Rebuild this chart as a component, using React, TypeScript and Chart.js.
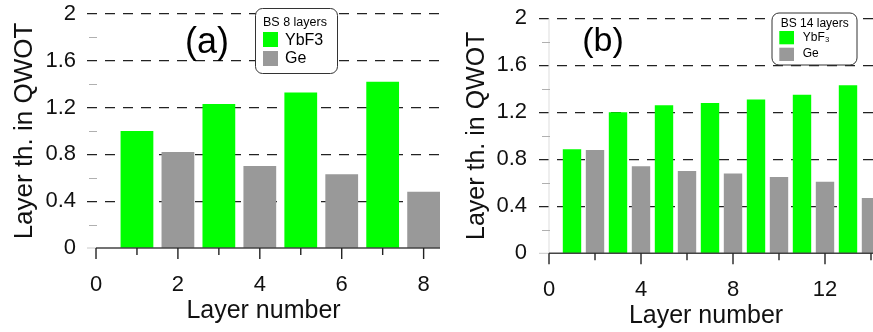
import React, { useEffect, useRef } from 'react';
import { Chart, registerables } from 'chart.js';
Chart.register(...registerables);

const FONT = "'Liberation Sans', Arial, Helvetica, sans-serif";

// ---------- data ----------
// Panel (a): BS 8 layers
const ybf3LayersA = [1, 3, 5, 7];
const ybf3ValuesA = [1.0, 1.23, 1.33, 1.42];
const geLayersA = [2, 4, 6, 8];
const geValuesA = [0.82, 0.7, 0.63, 0.48];

// Panel (b): BS 14 layers
const ybf3LayersB = [1, 3, 5, 7, 9, 11, 13];
const ybf3ValuesB = [0.885, 1.2, 1.26, 1.28, 1.31, 1.35, 1.43];
const geLayersB = [2, 4, 6, 8, 10, 12, 14];
const geValuesB = [0.88, 0.74, 0.7, 0.68, 0.65, 0.61, 0.47];

// ticks
const yTickValues = [0, 0.4, 0.8, 1.2, 1.6, 2];
const yTickLabels = ['0', '0.4', '0.8', '1.2', '1.6', '2'];
const yMinorValues = [0.2, 0.6, 1.0, 1.4, 1.8];
const xTickValuesA = [0, 2, 4, 6, 8];
const xTickLabelsA = ['0', '2', '4', '6', '8'];
const xTickValuesB = [0, 4, 8, 12];
const xTickLabelsB = ['0', '4', '8', '12'];

const GREEN = '#00ff00';
const GRAY = '#999999';

const findLabel = (vals: number[], labels: string[], v: number) => {
  const i = vals.findIndex((t) => Math.abs(t - v) < 1e-6);
  return i >= 0 ? labels[i] : '';
};

const decorPlugin = {
  id: 'decor',
  afterDatasetsDraw(chart: any, _args: any, o: any) {
    const ctx: CanvasRenderingContext2D = chart.ctx;
    const xs = chart.scales.x;
    const ys = chart.scales.y;
    const area = chart.chartArea;
    const y0 = ys.getPixelForValue(0);
    const x0 = xs.getPixelForValue(0);
    const line = (a: number, b: number, c: number, d: number) => {
      ctx.beginPath();
      ctx.moveTo(a, b);
      ctx.lineTo(c, d);
      ctx.stroke();
    };
    ctx.save();
    // zero baseline left of the axis
    ctx.strokeStyle = '#c8c8c8';
    ctx.lineWidth = 1;
    line(area.left, y0, x0, y0);
    if (o.yAxisLine) {
      ctx.strokeStyle = '#dddddd';
      line(x0, area.top, x0, y0);
    }
    // minor y ticks
    ctx.strokeStyle = '#b0b0b0';
    ctx.lineWidth = 1;
    for (const v of yMinorValues) {
      const py = Math.round(ys.getPixelForValue(v)) + 0.5;
      line(x0 - 7, py, x0 + 1, py);
    }
    // x axis line
    ctx.strokeStyle = '#444';
    ctx.lineWidth = 1.6;
    line(x0, y0, area.right, y0);
    // x ticks
    ctx.strokeStyle = '#222';
    ctx.lineWidth = 1.4;
    for (let v = 0; v <= xs.max + 1e-9; v += o.xMinorStep) {
      const px = xs.getPixelForValue(v);
      const major = Math.abs(v / o.xMajorStep - Math.round(v / o.xMajorStep)) < 1e-6;
      line(px, y0, px, y0 + (major ? 11 : 7));
    }
    // panel label
    ctx.fillStyle = '#000';
    ctx.font = `${o.label.size}px ${FONT}`;
    ctx.textAlign = 'center';
    ctx.textBaseline = 'middle';
    ctx.fillText(o.label.text, o.label.x, o.label.y);
    // legend box
    const L = o.legend;
    ctx.fillStyle = '#fff';
    ctx.strokeStyle = '#333';
    ctx.lineWidth = 1;
    ctx.beginPath();
    (ctx as any).roundRect(L.x + 0.5, L.y + 0.5, L.w, L.h, 7);
    ctx.fill();
    ctx.stroke();
    ctx.fillStyle = '#000';
    ctx.textAlign = 'left';
    ctx.font = `${L.titleSize}px ${FONT}`;
    ctx.fillText(L.title, L.titleX, L.titleY);
    chart.data.datasets.forEach((ds: any, i: number) => {
      ctx.fillStyle = ds.backgroundColor;
      ctx.fillRect(L.swX, L.swY[i], L.swW, L.swH);
      ctx.fillStyle = '#000';
      ctx.font = `${L.itemSize}px ${FONT}`;
      ctx.fillText(ds.label, L.textX, L.textY[i]);
    });
    ctx.restore();
  },
};

type Spec = {
  ybfX: number[];
  ybfY: number[];
  geX: number[];
  geY: number[];
  ybfLabel: string;
  xMin: number;
  xMax: number;
  xMajorStep: number;
  xMinorStep: number;
  xTickValues: number[];
  xTickLabels: string[];
  yAxisWidth: number;
  xAxisHeight: number;
  padTop: number;
  yTickPad: number;
  xTickPad: number;
  xTitlePadBottom: number;
  yTitlePadTop: number;
  yTitleSize: number;
  xTitleSize: number;
  yAxisLine: boolean;
  label: any;
  legend: any;
};

function makeConfig(s: Spec): any {
  return {
    type: 'bar',
    data: {
      datasets: [
        {
          label: s.ybfLabel,
          data: s.ybfX.map((x, i) => ({ x, y: s.ybfY[i] })),
          backgroundColor: GREEN,
          borderWidth: 0,
        },
        {
          label: 'Ge',
          data: s.geX.map((x, i) => ({ x, y: s.geY[i] })),
          backgroundColor: GRAY,
          borderWidth: 0,
        },
      ],
    },
    options: {
      responsive: false,
      animation: false,
      devicePixelRatio: 1,
      grouped: false,
      categoryPercentage: 1,
      barPercentage: 0.8,
      layout: { padding: { top: s.padTop, left: 0, right: 0, bottom: 0 } },
      plugins: {
        legend: { display: false },
        tooltip: { enabled: false },
        decor: {
          xMajorStep: s.xMajorStep,
          xMinorStep: s.xMinorStep,
          yAxisLine: s.yAxisLine,
          label: s.label,
          legend: s.legend,
        },
      },
      scales: {
        x: {
          type: 'linear',
          offset: false,
          min: s.xMin,
          max: s.xMax,
          grid: { display: false, offset: false, drawTicks: true, tickLength: s.xTickPad, tickWidth: 0 },
          border: { display: false },
          ticks: {
            stepSize: s.xMajorStep,
            includeBounds: false,
            autoSkip: false,
            maxRotation: 0,
            padding: 0,
            color: '#111',
            font: { family: FONT, size: 22 },
            callback: (v: number) => findLabel(s.xTickValues, s.xTickLabels, v),
          },
          title: {
            display: true,
            text: 'Layer number',
            color: '#111',
            font: { family: FONT, size: s.xTitleSize },
            padding: { top: 0, bottom: s.xTitlePadBottom },
          },
          afterFit: (sc: any) => {
            sc.height = s.xAxisHeight;
          },
        },
        y: {
          type: 'linear',
          min: 0,
          max: 2,
          grid: {
            drawTicks: true,
            tickLength: s.yTickPad,
            tickWidth: 0,
            tickColor: 'rgba(0,0,0,0)',
            lineWidth: (c: any) =>
              findLabel(yTickValues, yTickLabels, c.tick?.value) !== '' && c.tick?.value > 0 ? 1.3 : 0,
            color: '#222',
          },
          border: { display: false, dash: [10, 8] },
          ticks: {
            stepSize: 0.2,
            autoSkip: false,
            padding: 0,
            color: '#111',
            font: { family: FONT, size: 22 },
            callback: (v: number) => findLabel(yTickValues, yTickLabels, v),
          },
          title: {
            display: true,
            text: 'Layer th. in QWOT',
            color: '#111',
            font: { family: FONT, size: s.yTitleSize },
            padding: { top: s.yTitlePadTop, bottom: 0 },
          },
          afterFit: (sc: any) => {
            sc.width = s.yAxisWidth;
          },
        },
      },
    },
    plugins: [decorPlugin],
  };
}

const specA: Spec = {
  ybfX: ybf3LayersA,
  ybfY: ybf3ValuesA,
  geX: geLayersA,
  geY: geValuesA,
  ybfLabel: 'YbF3',
  xMin: -0.22,
  xMax: 8.4,
  xMajorStep: 2,
  xMinorStep: 1,
  xTickValues: xTickValuesA,
  xTickLabels: xTickLabelsA,
  yAxisWidth: 87,
  xAxisHeight: 84,
  padTop: 14,
  yTickPad: 11,
  xTickPad: 24,
  xTitlePadBottom: 6,
  yTitlePadTop: 9,
  yTitleSize: 26,
  xTitleSize: 25,
  yAxisLine: false,
  label: { text: '(a)', x: 207, y: 43, size: 36 },
  legend: {
    x: 255, y: 8, w: 82, h: 65,
    title: 'BS 8 layers', titleSize: 12.5, titleX: 263, titleY: 23,
    itemSize: 16, swX: 263, swW: 15, swH: 15, swY: [32, 51],
    textX: 285, textY: [40.5, 59],
  },
};

const specB: Spec = {
  ybfX: ybf3LayersB,
  ybfY: ybf3ValuesB,
  geX: geLayersB,
  geY: geValuesB,
  ybfLabel: 'YbF₃',
  xMin: -0.435,
  xMax: 14.087,
  xMajorStep: 4,
  xMinorStep: 2,
  xTickValues: xTickValuesB,
  xTickLabels: xTickLabelsB,
  yAxisWidth: 99,
  xAxisHeight: 78.7,
  padTop: 18.3,
  yTickPad: 12,
  xTickPad: 23.5,
  xTitlePadBottom: 1,
  yTitlePadTop: 22,
  yTitleSize: 25,
  xTitleSize: 25,
  yAxisLine: true,
  label: { text: '(b)', x: 163, y: 42, size: 34 },
  legend: {
    x: 331.5, y: 12.5, w: 85, h: 52,
    title: 'BS 14 layers', titleSize: 12, titleX: 340.7, titleY: 23.5,
    itemSize: 12, swX: 339.3, swW: 14.7, swH: 13.3, swY: [31, 47.7],
    textX: 362.7, textY: [38, 54],
  },
};

function Panel({ spec, left, width }: { spec: Spec; left: number; width: number }) {
  const ref = useRef<HTMLCanvasElement>(null);
  useEffect(() => {
    const chart = new Chart(ref.current as HTMLCanvasElement, makeConfig(spec));
    return () => chart.destroy();
  }, []);
  return (
    <canvas
      ref={ref}
      width={width}
      height={332}
      style={{ position: 'absolute', left, top: 0, width, height: 332, display: 'block' }}
    />
  );
}

export default function App() {
  return (
    <div
      style={{
        position: 'fixed',
        left: 0,
        top: 0,
        width: 873,
        height: 332,
        background: '#fff',
        overflow: 'hidden',
      }}
    >
      <Panel spec={specA} left={0} width={440} />
      <Panel spec={specB} left={440} width={433} />
    </div>
  );
}
